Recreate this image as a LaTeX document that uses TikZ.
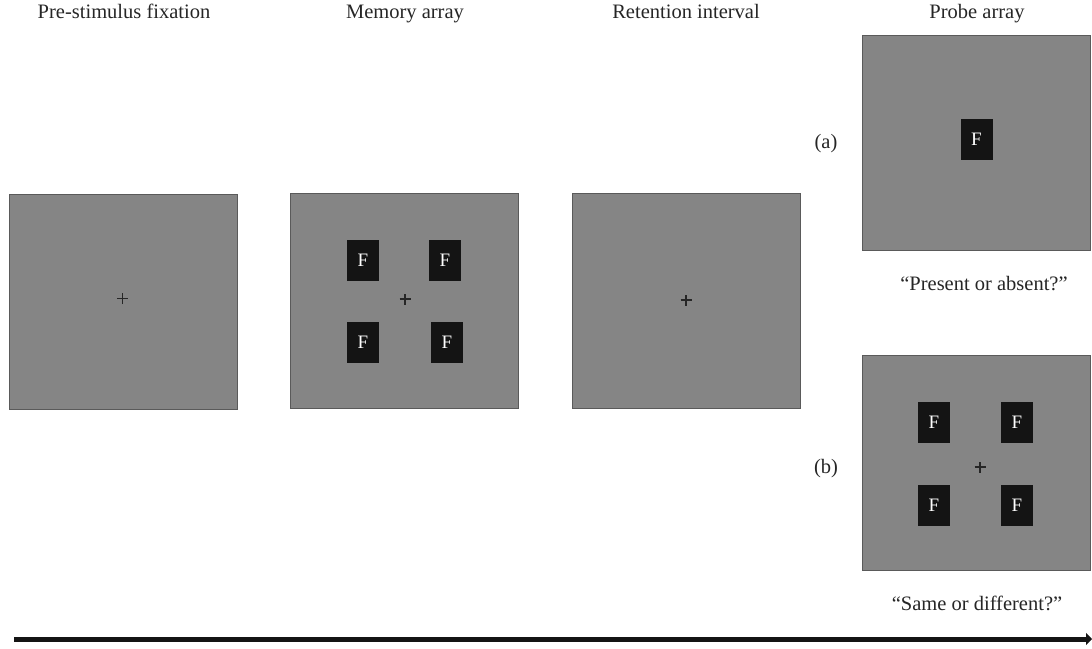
\documentclass[tikz,border=0pt]{standalone}
\usepackage{fontspec}
\setmainfont{Liberation Serif}
\usetikzlibrary{arrows.meta}
\definecolor{panelgray}{HTML}{858585}
\definecolor{panelborder}{HTML}{5A5A5A}
\definecolor{tilecol}{HTML}{141414}
\begin{document}
\begin{tikzpicture}[x=1pt,y=-1pt,
  panel/.style={draw=panelborder,line width=1.2pt,fill=panelgray,minimum width=228pt,minimum height=215pt,inner sep=0pt,anchor=north west},
  tile/.style={fill=tilecol,minimum width=32pt,minimum height=41pt,inner sep=0pt,text=white,font=\fontsize{19}{19}\selectfont},
  fixcross/.style={draw=black!85,line width=1.3pt},
  lbl/.style={font=\fontsize{20.5}{24}\selectfont,text=black!85,inner sep=0pt,anchor=base}]
\useasboundingbox (0,0) rectangle (1092,648);
% titles
\node[lbl] (t1) at (124,18) {Pre-stimulus fixation};
\node[lbl] (t2) at (405,18) {Memory array};
\node[lbl] (t3) at (686,18) {Retention interval};
\node[lbl] (t4) at (977,18) {Probe array};
% panels
\node[panel] (p1) at (9,194) {};
\node[panel] (p2) at (290,193) {};
\node[panel] (p3) at (572,193) {};
\node[panel] (p4) at (862,35) {};
\node[panel] (p5) at (862,355) {};
% fixation crosses
\foreach \n/\cx/\cy in {c1/122.5/298.5, c2/405/299, c3/686/300, c5/980/467}{
  \coordinate (\n) at (\cx,\cy);
  \draw[fixcross] ([xshift=-5.5pt]\n) -- ([xshift=5.5pt]\n);
  \draw[fixcross] ([yshift=-5.5pt]\n) -- ([yshift=5.5pt]\n);
}
% memory array tiles
\node[tile] (m1) at (363,260.5) {F};
\node[tile] (m2) at (445,260.5) {F};
\node[tile] (m3) at (363,342.5) {F};
\node[tile] (m4) at (447,342.5) {F};
% probe tiles
\node[tile] (pa) at (976.5,139.5) {F};
\node[tile] (b1) at (934,422) {F};
\node[tile] (b2) at (1017,422) {F};
\node[tile] (b3) at (934,505) {F};
\node[tile] (b4) at (1017,505) {F};
% condition labels
\node[lbl] (la) at (826,148) {(a)};
\node[lbl] (lb) at (826,473) {(b)};
\node[lbl] (qa) at (984,290) {“Present or absent?”};
\node[lbl] (qb) at (977,610) {“Same or different?”};
% time arrow
\coordinate (ts) at (14,639);
\coordinate (te) at (1092,639);
\draw[line width=5pt,color=tilecol,-{Triangle[length=6pt,width=12pt]}] (ts) -- (te);
\end{tikzpicture}
\end{document}
